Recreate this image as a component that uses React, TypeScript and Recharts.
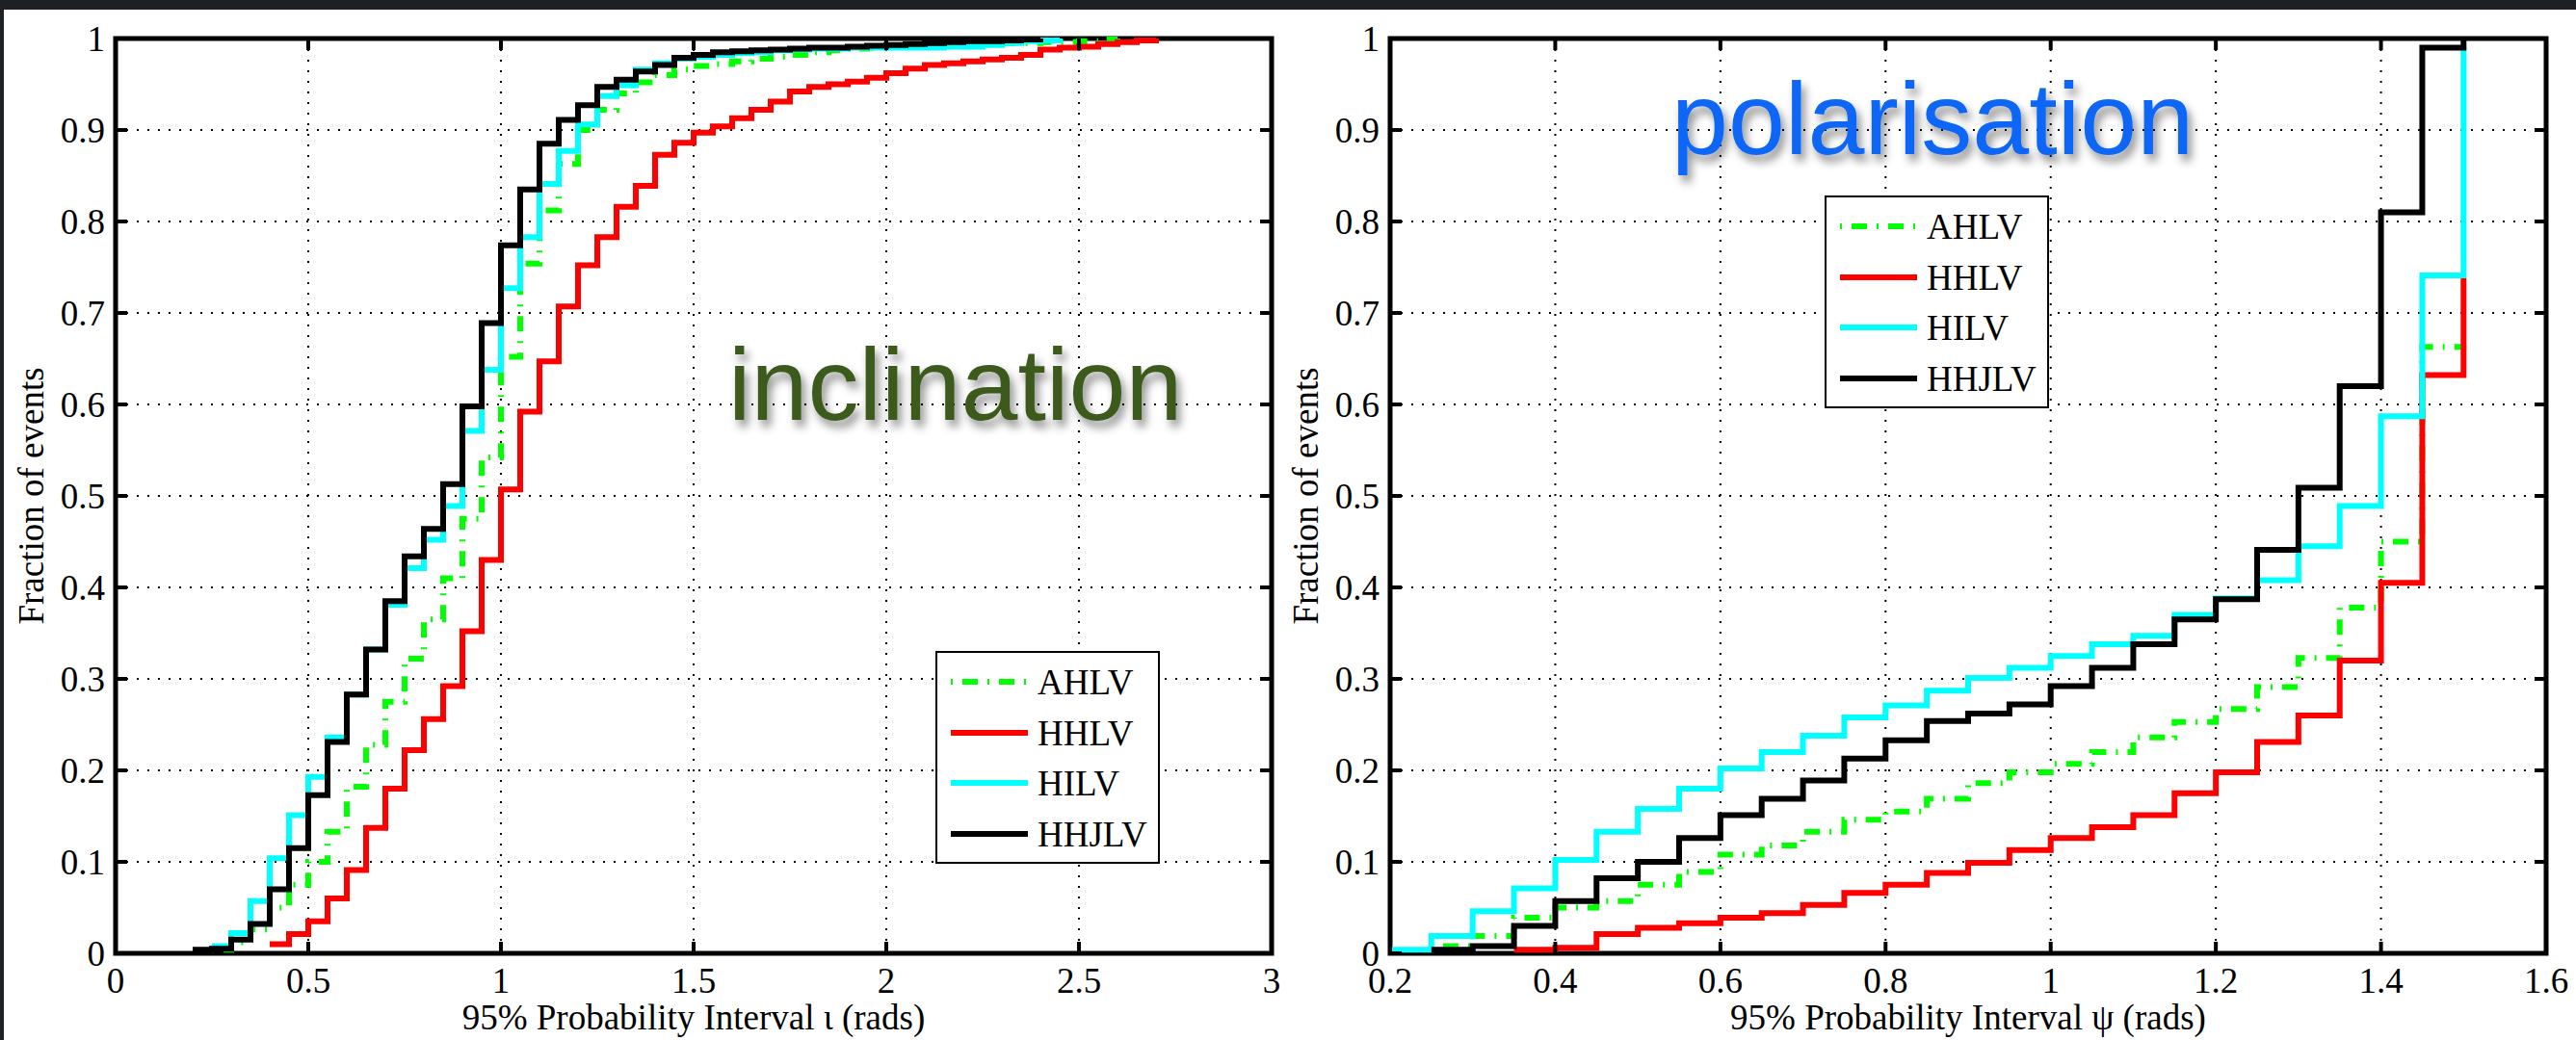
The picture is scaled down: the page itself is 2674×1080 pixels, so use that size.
import React from "react";
import { LineChart, Line, XAxis, YAxis, CartesianGrid, ReferenceArea, Legend } from "recharts";

// bin edges (rads) and cumulative fractions
const incEdges = [
  0.2, 0.25, 0.3, 0.35, 0.4, 0.45, 0.5, 0.55, 0.6, 0.65, 0.7, 0.75, 0.8, 0.85, 0.9, 0.95,
  1.0, 1.05, 1.1, 1.15, 1.2, 1.25, 1.3, 1.35, 1.4, 1.45, 1.5, 1.55, 1.6, 1.65, 1.7, 1.75,
  1.8, 1.85, 1.9, 1.95, 2.0, 2.05, 2.1, 2.15, 2.2, 2.25, 2.3, 2.35, 2.4, 2.45, 2.5, 2.55,
  2.6, 2.65, 2.7,
];
const incAHLV = [
  null, 0.004, 0.012, 0.026, 0.05, 0.075, 0.1, 0.133, 0.182, 0.228, 0.275, 0.322, 0.365, 0.41, 0.475, 0.542,
  0.652, 0.754, 0.812, 0.863, 0.9, 0.922, 0.94, 0.952, 0.96, 0.966, 0.97, 0.972, 0.975, 0.978, 0.98, 0.982,
  0.985, 0.987, 0.989, 0.99, 0.992, 0.992, 0.993, 0.993, 0.994, 0.994, 0.995, 0.995, 0.996, 0.996, 0.997, 0.999,
  1.0, null, null,
];
const incHHLV = [
  null, null, null, null, 0.01, 0.021, 0.035, 0.06, 0.091, 0.137, 0.18, 0.222, 0.256, 0.292, 0.352, 0.43,
  0.507, 0.592, 0.647, 0.707, 0.752, 0.783, 0.816, 0.839, 0.873, 0.886, 0.897, 0.904, 0.913, 0.922, 0.931, 0.942,
  0.947, 0.95, 0.953, 0.957, 0.962, 0.967, 0.971, 0.973, 0.975, 0.977, 0.979, 0.982, 0.988, 0.99, 0.991, 0.994,
  0.996, 0.998, 1.0,
];
const incHILV = [
  null, 0.008, 0.022, 0.057, 0.104, 0.151, 0.193, 0.236, 0.283, 0.332, 0.381, 0.421, 0.452, 0.489, 0.571, 0.638,
  0.727, 0.783, 0.841, 0.877, 0.906, 0.937, 0.949, 0.966, 0.973, 0.978, 0.98, 0.982, 0.984, 0.985, 0.987, 0.988,
  0.989, 0.989, 0.99, 0.99, 0.99, 0.99, 0.99, 0.991, 0.991, 0.993, 0.995, 0.997, 0.998, 1.0, null, null,
  null, null, null,
];
const incHHJLV = [
  0.004, 0.005, 0.015, 0.032, 0.07, 0.115, 0.173, 0.231, 0.283, 0.332, 0.385, 0.434, 0.464, 0.513, 0.598, 0.689,
  0.774, 0.835, 0.885, 0.911, 0.927, 0.947, 0.955, 0.964, 0.971, 0.979, 0.982, 0.985, 0.986, 0.987, 0.988, 0.989,
  0.99, 0.99, 0.991, 0.992, 0.993, 0.994, 0.995, 0.996, 0.997, 0.997, 0.998, 0.999, 1.0, null, null, null,
  null, null, null,
];

const polEdges = [
  0.2, 0.25, 0.3, 0.35, 0.4, 0.45, 0.5, 0.55, 0.6, 0.65, 0.7, 0.75, 0.8, 0.85, 0.9, 0.95,
  1.0, 1.05, 1.1, 1.15, 1.2, 1.25, 1.3, 1.35, 1.4, 1.45, 1.5,
];
const polAHLV = [
  null, 0.008, 0.019, 0.039, 0.05, 0.057, 0.075, 0.089, 0.108, 0.118, 0.133, 0.146, 0.155, 0.169, 0.186, 0.198,
  0.207, 0.22, 0.236, 0.253, 0.267, 0.291, 0.323, 0.378, 0.45, 0.663, 0.665,
];
const polHHLV = [
  null, null, null, 0.004, 0.006, 0.021, 0.028, 0.033, 0.039, 0.044, 0.053, 0.066, 0.075, 0.088, 0.099, 0.113,
  0.126, 0.138, 0.151, 0.175, 0.198, 0.231, 0.26, 0.32, 0.405, 0.632, 0.738,
];
const polHILV = [
  0.004, 0.019, 0.046, 0.071, 0.102, 0.133, 0.158, 0.18, 0.202, 0.22, 0.238, 0.258, 0.271, 0.287, 0.301, 0.312,
  0.325, 0.338, 0.347, 0.37, 0.388, 0.408, 0.445, 0.489, 0.587, 0.741, 0.99,
];
const polHHJLV = [
  null, 0.004, 0.008, 0.03, 0.057, 0.082, 0.1, 0.126, 0.151, 0.169, 0.189, 0.213, 0.233, 0.254, 0.262, 0.272,
  0.292, 0.312, 0.338, 0.365, 0.387, 0.441, 0.509, 0.62, 0.81, 0.99, 1.0,
];

const incXTicks = [0, 0.5, 1, 1.5, 2, 2.5, 3];
const polXTicks = [0.2, 0.4, 0.6, 0.8, 1, 1.2, 1.4, 1.6];
const yTicks = [0, 0.1, 0.2, 0.3, 0.4, 0.5, 0.6, 0.7, 0.8, 0.9, 1];

const seriesNames = ["AHLV", "HHLV", "HILV", "HHJLV"];
const seriesColors = ["#00ff00", "#ff0000", "#00ffff", "#000000"];
const seriesDash = ["2 10 16 10", undefined, undefined, undefined];

const SERIF = "'Liberation Serif', 'Times New Roman', serif";
const PLOT_W = 1200;
const PLOT_H = 950;
const CHART_W = 1360;
const CHART_H = 1080;
const MARGIN = { top: 40, right: 40, bottom: 30, left: 40 };

const buildRows = (edges: number[], cols: (number | null)[][]) =>
  edges.map((x, i) => {
    const row: Record<string, number | null> = { x };
    seriesNames.forEach((name, s) => {
      row[name] = cols[s][i];
    });
    return row;
  });

const incRows = buildRows(incEdges, [incAHLV, incHHLV, incHILV, incHHJLV]);
const polRows = buildRows(polEdges, [polAHLV, polHHLV, polHILV, polHHJLV]);

const fmt = (v: number) => String(Math.round(v * 10) / 10);

const XTick = (props: any) => {
  const { x, y, payload } = props;
  return (
    <g>
      <line x1={x} x2={x} y1={y} y2={y - 12} stroke="#000" strokeWidth={4} />
      <line x1={x} x2={x} y1={y - PLOT_H} y2={y - PLOT_H + 12} stroke="#000" strokeWidth={4} />
      <text x={x} y={y + 28} textAnchor="middle" dominantBaseline="central" fontFamily={SERIF} fontSize={37} fill="#000">
        {fmt(payload.value)}
      </text>
    </g>
  );
};

const YTick = (props: any) => {
  const { x, y, payload } = props;
  return (
    <g>
      <line x1={x} x2={x + 12} y1={y} y2={y} stroke="#000" strokeWidth={4} />
      <line x1={x + PLOT_W - 12} x2={x + PLOT_W} y1={y} y2={y} stroke="#000" strokeWidth={4} />
      <text x={x - 11} y={y} textAnchor="end" dominantBaseline="central" fontFamily={SERIF} fontSize={37} fill="#000">
        {fmt(payload.value)}
      </text>
    </g>
  );
};

const YLabel = () => (
  <text
    x={32}
    y={515}
    transform="rotate(-90 32 515)"
    textAnchor="middle"
    dominantBaseline="central"
    fontFamily={SERIF}
    fontSize={37}
    fill="#000"
  >
    Fraction of events
  </text>
);

const legendRows = [32, 85, 137, 190];

const LegendBox = (props: any) => {
  const payload = [...(props.payload || [])].sort(
    (a: any, b: any) => seriesNames.indexOf(a.value) - seriesNames.indexOf(b.value)
  );
  return (
    <svg width={233} height={221} style={{ display: "block" }}>
      <rect x={1} y={1} width={231} height={219} fill="#fff" stroke="#000" strokeWidth={2} />
      {payload.map((entry: any, i: number) => (
        <g key={entry.value}>
          <line
            x1={16}
            x2={96}
            y1={legendRows[i]}
            y2={legendRows[i]}
            stroke={entry.color}
            strokeWidth={6}
            strokeDasharray={seriesDash[seriesNames.indexOf(entry.value)]}
          />
          <text x={106} y={legendRows[i]} dominantBaseline="central" fontFamily={SERIF} fontSize={37} fill="#000">
            {entry.value}
          </text>
        </g>
      ))}
    </svg>
  );
};

type PanelProps = {
  rows: Record<string, number | null>[];
  domain: [number, number];
  ticks: number[];
  xLabel: string;
  legendLeft: number;
  legendTop: number;
};

function Panel({ rows, domain, ticks, xLabel, legendLeft, legendTop }: PanelProps) {
  return (
    <LineChart width={CHART_W} height={CHART_H} data={rows} margin={MARGIN}>
      <CartesianGrid stroke="#000" strokeWidth={2} strokeDasharray="2 9" />
      <XAxis
        type="number"
        dataKey="x"
        domain={domain}
        ticks={ticks}
        interval={0}
        height={60}
        axisLine={false}
        tickLine={false}
        tickSize={0}
        tickMargin={0}
        tick={<XTick />}
        label={{
          value: xLabel,
          position: "insideBottom",
          offset: -19,
          fontFamily: SERIF,
          fontSize: 37,
          fill: "#000",
        }}
      />
      <YAxis
        type="number"
        domain={[0, 1]}
        ticks={yTicks}
        interval={0}
        width={80}
        axisLine={false}
        tickLine={false}
        tickSize={0}
        tickMargin={0}
        tick={<YTick />}
        label={<YLabel />}
      />
      {seriesNames.map((name, i) => (
        <Line
          key={name}
          type="stepAfter"
          dataKey={name}
          name={name}
          stroke={seriesColors[i]}
          strokeWidth={6}
          strokeDasharray={seriesDash[i]}
          dot={false}
          activeDot={false}
          connectNulls={false}
          isAnimationActive={false}
        />
      ))}
      <ReferenceArea
        x1={domain[0]}
        x2={domain[1]}
        y1={0}
        y2={1}
        fill="none"
        fillOpacity={0}
        stroke="#000"
        strokeWidth={5}
        strokeOpacity={1}
      />
      <Legend
        layout="vertical"
        align="center"
        verticalAlign="middle"
        content={<LegendBox />}
        wrapperStyle={{ left: legendLeft, top: legendTop, width: 233, height: 221 }}
      />
    </LineChart>
  );
}

export default function App() {
  return (
    <div
      style={{
        position: "absolute",
        left: 0,
        top: 0,
        width: 2674,
        height: 1080,
        background: "#1d2024",
        overflow: "hidden",
        fontFamily: SERIF,
      }}
    >
      <div style={{ position: "absolute", left: 4, top: 10, width: 2670, height: 1070, background: "#fff" }} />
      <div style={{ position: "absolute", left: 0, top: 0 }}>
        <Panel
          rows={incRows}
          domain={[0, 3]}
          ticks={incXTicks}
          xLabel="95% Probability Interval ι (rads)"
          legendLeft={971}
          legendTop={676}
        />
      </div>
      <div style={{ position: "absolute", left: 1323, top: 0 }}>
        <Panel
          rows={polRows}
          domain={[0.2, 1.6]}
          ticks={polXTicks}
          xLabel="95% Probability Interval ψ (rads)"
          legendLeft={571}
          legendTop={203}
        />
      </div>
      <svg
        width={2674}
        height={1080}
        style={{ position: "absolute", left: 0, top: 0, pointerEvents: "none" }}
      >
        <defs>
          <filter id="titleShadow" x="-10%" y="-30%" width="130%" height="180%">
            <feDropShadow dx={4} dy={7} stdDeviation={5} floodColor="#000" floodOpacity={0.45} />
          </filter>
        </defs>
        <text
          x={756}
          y={436}
          fontFamily="'Liberation Sans', Arial, sans-serif"
          fontSize={106}
          fill="#3b5a1d"
          filter="url(#titleShadow)"
        >
          inclination
        </text>
        <text
          x={1735}
          y={160}
          fontFamily="'Liberation Sans', Arial, sans-serif"
          fontSize={106}
          fill="#0a66f5"
          filter="url(#titleShadow)"
        >
          polarisation
        </text>
      </svg>
    </div>
  );
}
